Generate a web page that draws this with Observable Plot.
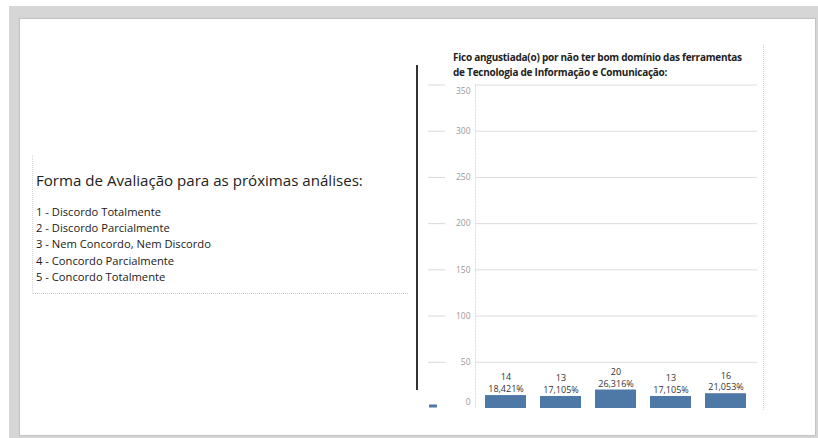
<!DOCTYPE html>
<html>
<head>
<meta charset="utf-8">
<script src="https://cdn.jsdelivr.net/npm/d3@7"></script>
<script src="https://cdn.jsdelivr.net/npm/@observablehq/plot@0.6"></script>
<style>
  html, body { margin: 0; padding: 0; background: #fff; }
  body { width: 818px; height: 438px; position: relative; overflow: hidden; font-family: "Open Sans", sans-serif; }
  #bg { position: absolute; left: 9px; top: 6px; right: 0; bottom: 0; background: #d6d6d6; }
  #panel { position: absolute; left: 20px; top: 19px; width: 795px; height: 416px; background: #fff;
           box-shadow: 0 0 1px 1px #c4c4c4; }
  #legendBox { position: absolute; left: 32px; top: 155px; width: 375px; height: 138px;
               border-left: 1px dotted #d4d4d4; border-bottom: 1px dotted #c8c8c8; }
  #legendBox h2 { margin: 0; position: absolute; left: 3px; top: 15px; font-size: 15.1px; font-weight: 400; color: #222; white-space: nowrap; }
  #legendBox ul { list-style: none; margin: 0; padding: 0; position: absolute; left: 3px; top: 49px; font-size: 11.2px; line-height: 16.2px; color: #1a1a1a; }
  #divider { position: absolute; left: 416px; top: 65px; width: 1.5px; height: 325px; background: #333; }
  #chartBox { position: absolute; left: 420px; top: 45px; width: 343px; height: 365px; border-right: 1px dotted #d0d0d0; }
  #title { position: absolute; left: 33px; top: 5px; font-size: 10px; letter-spacing: -0.25px; font-weight: 700; line-height: 15px; color: #222; white-space: nowrap; font-family: "Open Sans", sans-serif; }
  #plot { position: absolute; left: 0; top: 35px; }
</style>
</head>
<body>
<div id="bg"></div>
<div id="panel"></div>
<div id="legendBox">
  <h2 id="legendTitle"></h2>
  <ul id="legendList"></ul>
</div>
<div id="divider"></div>
<div id="chartBox">
  <div id="title"></div>
  <div id="plot"></div>
</div>
<script>
// ---- data ----
const titleLines = [
  "Fico angustiada(o) por não ter bom domínio das ferramentas",
  "de Tecnologia de Informação e Comunicação:"
];
const legendTitle = "Forma de Avaliação para as próximas análises:";
const legendItems = [
  "1 - Discordo Totalmente",
  "2 - Discordo Parcialmente",
  "3 - Nem Concordo, Nem Discordo",
  "4 - Concordo Parcialmente",
  "5 - Concordo Totalmente"
];
const categories = ["1", "2", "3", "4", "5"];
const counts = [14, 13, 20, 13, 16];
const yTicks = [0, 50, 100, 150, 200, 250, 300, 350];

// ---- text blocks ----
document.getElementById("legendTitle").textContent = legendTitle;
const ul = document.getElementById("legendList");
legendItems.forEach(t => { const li = document.createElement("li"); li.textContent = t; ul.appendChild(li); });
document.getElementById("title").innerHTML = titleLines.map(t => `<div>${t}</div>`).join("");

// ---- chart ----
const total = d3.sum(counts);
const data = categories.map((c, i) => ({
  cat: c,
  n: counts[i],
  label: `${counts[i]}\n${(counts[i] / total * 100).toFixed(3).replace(".", ",")}%`
}));
const blue = "#4e79a7";
const midTicks = yTicks.filter(t => t !== 0 && t !== 350);

const chart = Plot.plot({
  width: 343,
  height: 335,
  marginLeft: 55,
  marginRight: 6,
  marginTop: 4.5,
  marginBottom: 7,
  style: { fontFamily: "Open Sans, sans-serif", background: "transparent", overflow: "visible" },
  x: { domain: categories, paddingInner: 0.25, paddingOuter: 0.143, axis: null },
  y: { domain: [0, 350], axis: null },
  marks: [
    Plot.frame({ anchor: "left", stroke: "#d8d8d8", strokeDasharray: "1,2" }),
    Plot.ruleY(yTicks.filter(t => t > 0), { stroke: "#dcdcdc", strokeWidth: 1 }),
    Plot.ruleY(yTicks.filter(t => t > 0), { stroke: "#d8d8d8", strokeWidth: 1, insetLeft: -47, insetRight: 312 }),
    Plot.ruleY([0], { stroke: blue, strokeWidth: 3, dy: -2.5, insetLeft: -46, insetRight: 320 }),
    Plot.text(midTicks, { y: d => d, text: d => String(d), frameAnchor: "left", textAnchor: "end", dx: -5, fill: "#9a9a9a", fontSize: 8.5 }),
    Plot.text([350], { y: d => d, text: d => String(d), frameAnchor: "left", textAnchor: "end", dx: -5, dy: 6, fill: "#9a9a9a", fontSize: 8.5 }),
    Plot.text([0], { y: d => d, text: d => String(d), frameAnchor: "left", textAnchor: "end", dx: -5, dy: -6, fill: "#9a9a9a", fontSize: 8.5 }),
    Plot.barY(data, { x: "cat", y: "n", fill: blue }),
    Plot.text(data, { x: "cat", y: "n", text: "label", lineAnchor: "bottom", dy: -3.5, lineHeight: 1.3, fill: "#333", fontSize: 9 })
  ]
});
document.getElementById("plot").appendChild(chart);
</script>
</body>
</html>
